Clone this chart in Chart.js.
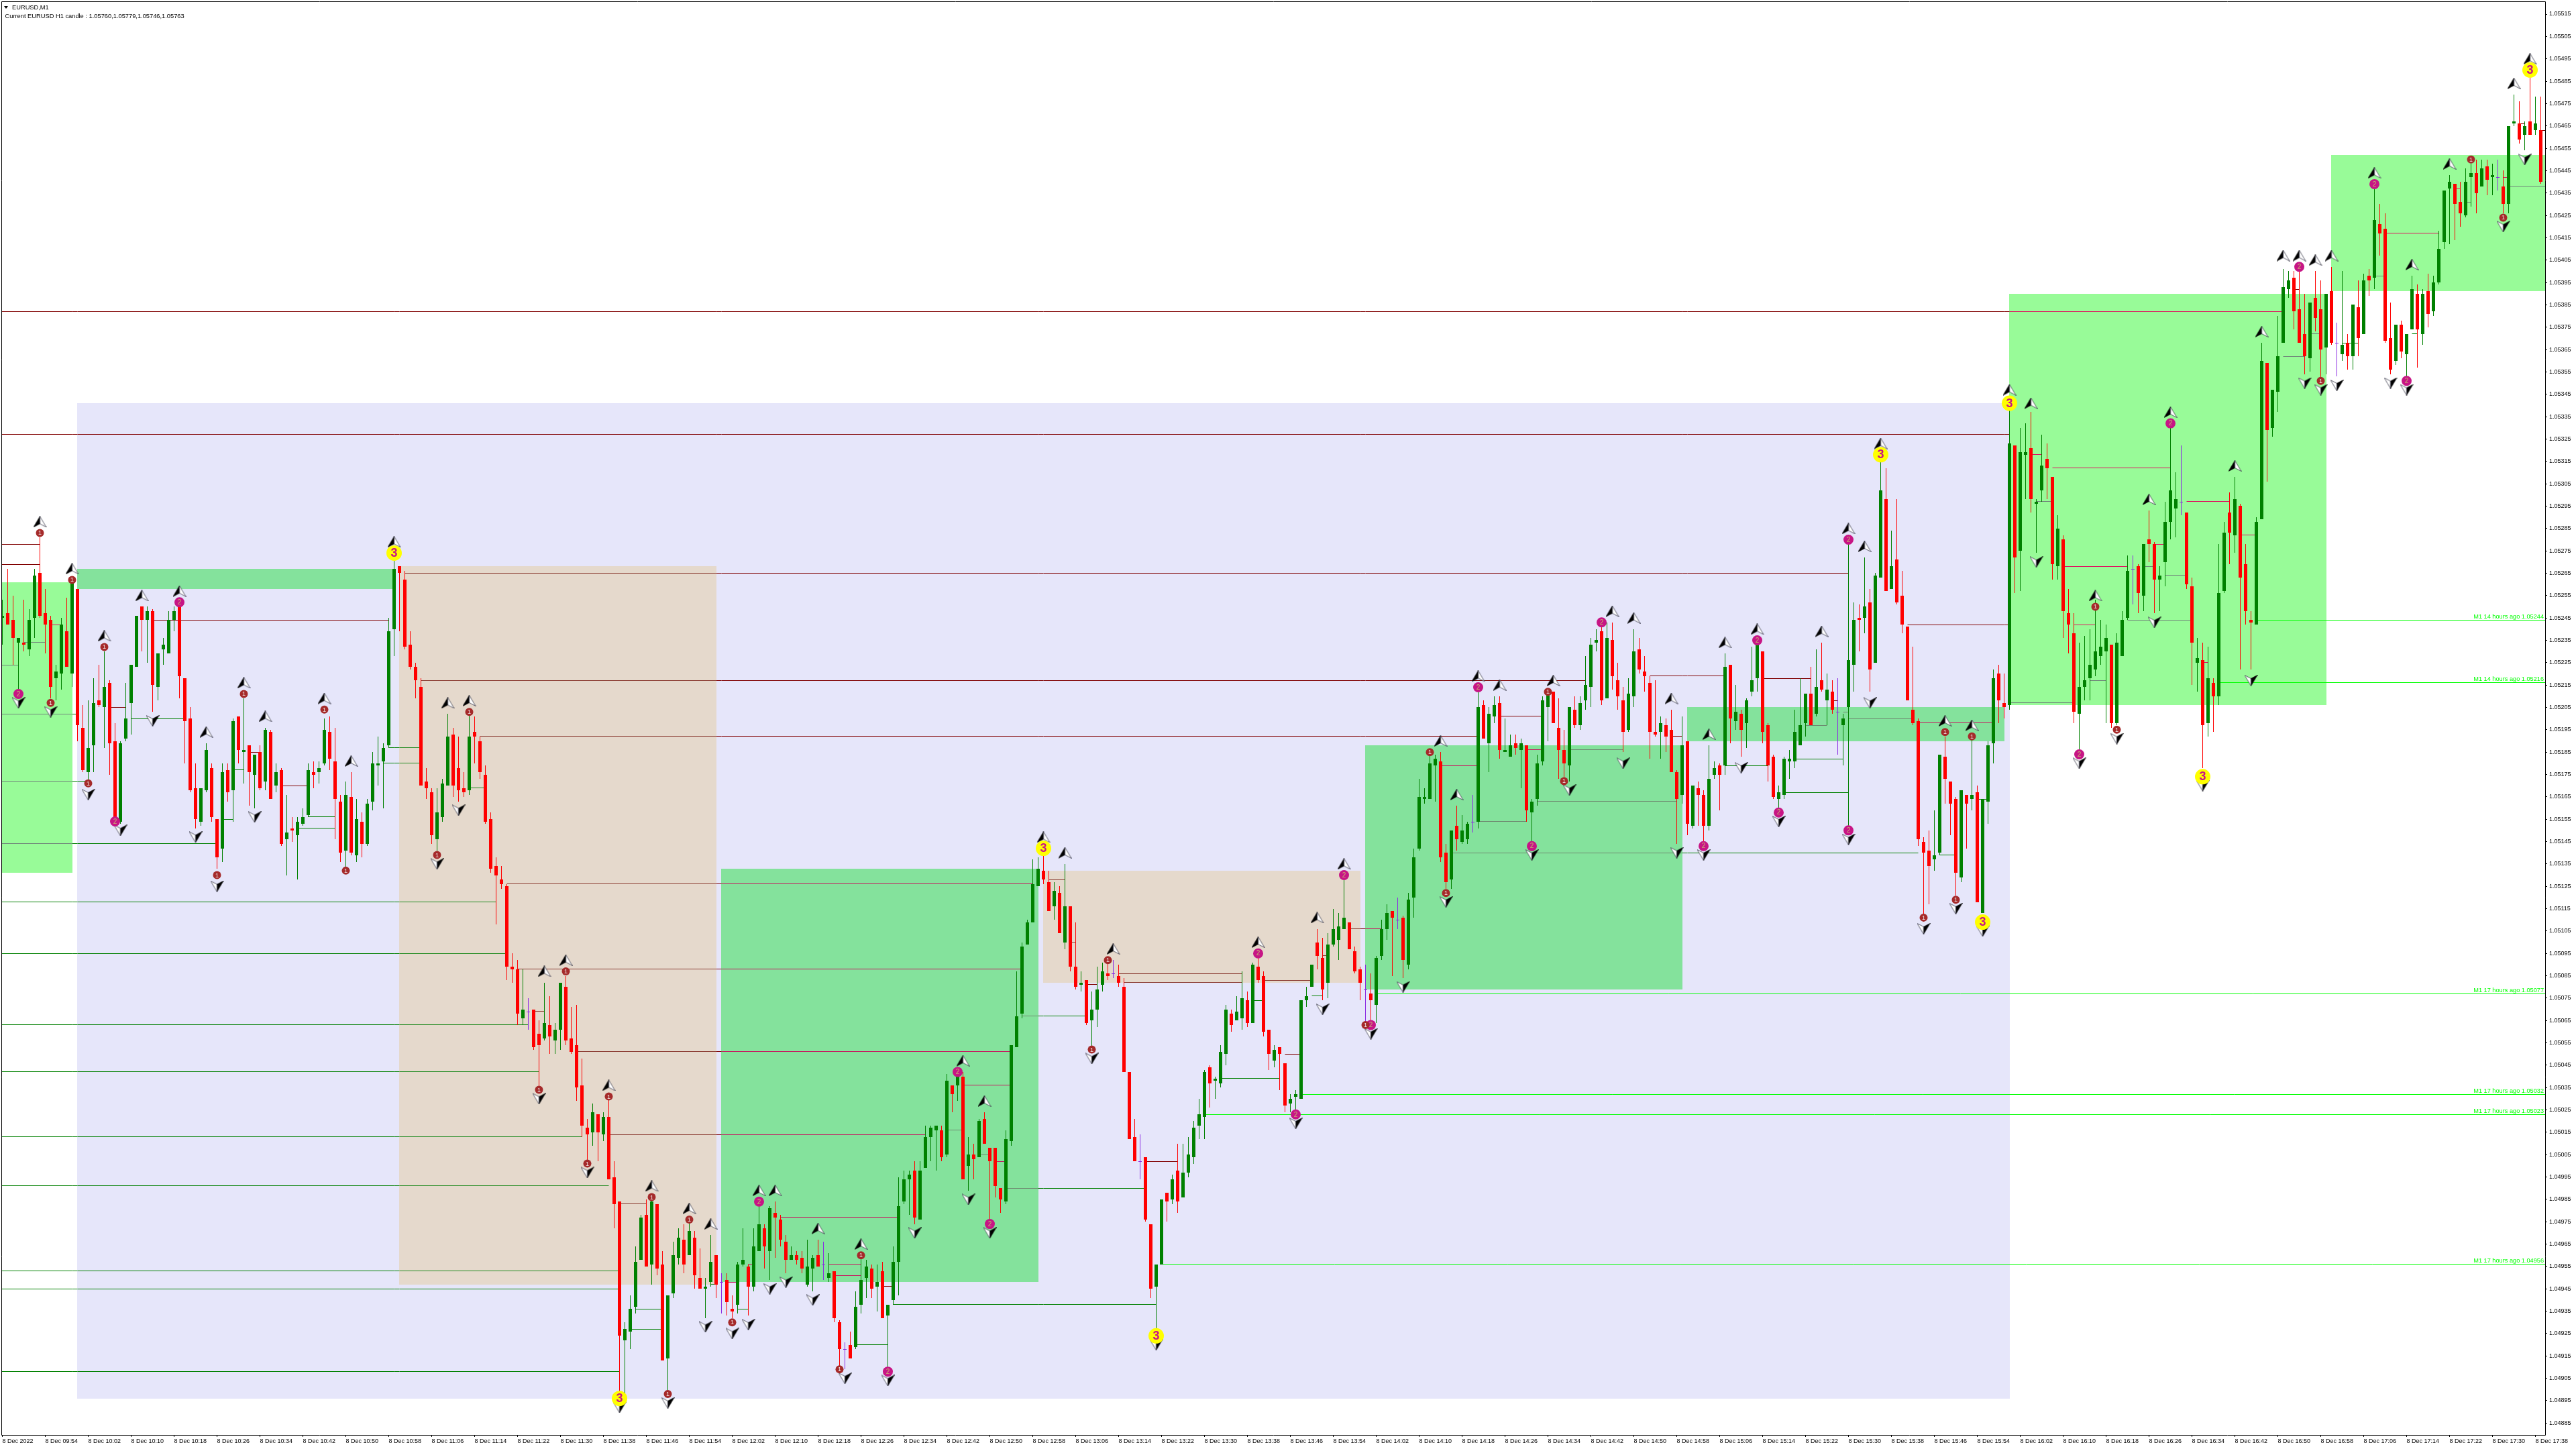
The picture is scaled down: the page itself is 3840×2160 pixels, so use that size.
<!DOCTYPE html>
<html><head><meta charset="utf-8">
<style>html,body{margin:0;padding:0;background:#fff}canvas{display:block}</style>
<script src="https://cdn.jsdelivr.net/npm/chart.js@4"></script>
</head><body><canvas id="c" width="3840" height="2160" style="width:3840px;height:2160px"></canvas>
<script>
// All candle values are points (0.00001) above 1.05000.
const opens=[245,247,244,234,234,231,245,265,247,244,218,220,239,220,258,196,176,188,208,205,216,190,154,191,207,223,250,244,248,214,231,229,244,250,218,200,169,154,168,178,155,142,177,168,201,185,188,175,185,172,194,170,177,146,151,148,153,157,176,176,180,194,181,163,141,165,139,154,144,163,179,181,188,240,268,262,233,223,214,172,167,146,156,170,193,178,169,168,194,190,175,155,134,128,125,89,88,66,69,70,59,57,63,56,61,80,57,54,36,17,15,23,14,22,-5,-16,-78,-74,-63,-42,-22,-44,-17,-44,-86,-57,-41,-33,-40,-32,-50,-55,-52,-40,-52,-51,-64,-62,-44,-45,-54,-38,-28,-38,-21,-24,-34,-42,-40,-41,-53,-46,-40,-44,-50,-47,-70,-82,-80,-81,-62,-50,-46,-54,-47,-67,-60,-43,-16,-6,-2,-24,-1,13,16,16,5,36,36,40,0,5,4,21,8,8,-10,-16,11,53,68,99,109,125,132,127,116,122,100,116,89,81,83,65,70,81,86,86,85,80,42,13,2,4,-26,-54,-44,-12,-15,-2,-14,-3,4,18,22,44,38,37,50,68,65,66,74,64,89,85,61,47,53,46,28,31,30,74,80,100,93,82,99,101,106,109,96,88,79,77,72,94,106,114,110,111,90,120,142,164,164,179,181,140,128,152,145,146,154,154,206,189,201,207,185,183,189,186,188,158,164,181,205,212,196,186,179,204,197,208,214,234,239,209,235,217,208,195,210,231,221,216,194,194,197,195,176,166,190,152,169,166,152,175,179,179,224,199,202,198,212,218,230,197,183,164,166,181,181,188,198,211,202,217,208,212,203,197,205,224,245,245,252,225,263,298,258,271,255,241,204,199,145,141,137,140,183,172,164,129,166,164,167,113,163,189,220,207,206,322,275,318,321,296,302,316,308,268,280,247,238,202,214,218,222,228,230,233,198,228,245,267,268,255,280,278,262,270,288,294,297,292,259,225,226,198,216,210,257,292,282,295,269,244,242,289,359,330,346,368,392,397,383,372,361,388,383,366,391,368,363,368,362,384,372,398,397,421,419,370,360,376,363,374,390,372,391,382,395,413,437,439,431,425,442,444,438,447,442,442,438,430,466,466,461,467,463,463];
const closes=[246,242,236,236,233,244,264,246,242,214,221,242,223,261,197,177,187,207,206,214,189,155,189,200,224,246,244,248,215,229,233,244,248,219,199,168,155,169,186,156,138,176,167,199,186,186,176,184,169,195,164,176,144,149,150,154,156,177,175,178,195,182,164,140,166,140,155,144,162,180,180,187,239,267,265,232,223,217,170,169,148,158,171,192,170,168,167,192,192,176,154,133,130,126,89,88,68,70,69,53,54,64,58,61,82,56,51,35,18,14,24,15,22,-6,-17,-76,-73,-64,-43,-23,-45,-16,-46,-87,-58,-40,-32,-44,-29,-49,-55,-54,-43,-53,-52,-61,-65,-44,-42,-54,-36,-26,-36,-19,-23,-33,-42,-40,-42,-46,-45,-41,-45,-44,-48,-68,-82,-82,-86,-63,-51,-45,-55,-52,-68,-62,-43,-18,-6,-4,-23,-2,13,17,18,4,38,32,40,-6,5,3,20,10,2,-9,-15,12,54,67,98,109,126,133,128,114,123,104,116,89,80,82,64,70,79,87,85,86,82,42,12,2,2,-24,-55,-44,-15,-16,-6,-16,-3,5,17,23,42,37,39,51,70,63,69,75,64,90,83,60,50,52,50,27,30,32,74,76,90,94,79,99,106,107,111,97,87,82,79,74,93,106,113,111,110,92,119,138,165,165,180,182,138,127,150,146,150,153,154,205,191,202,206,186,186,188,187,189,159,163,180,208,211,198,186,180,205,197,207,215,233,235,208,236,219,210,194,211,230,222,219,194,193,198,192,176,164,188,153,170,166,152,173,178,175,223,200,203,195,208,217,233,194,179,165,167,182,182,194,197,211,197,214,213,213,204,203,200,226,244,244,250,222,264,302,257,268,252,242,208,198,146,140,134,139,184,173,162,131,168,162,166,118,164,188,218,208,205,323,272,319,319,298,297,313,312,269,285,248,242,203,214,217,224,230,232,236,198,234,244,266,267,256,278,278,262,264,288,302,298,297,260,234,227,197,218,210,256,283,283,298,263,248,243,288,360,329,347,362,393,396,382,368,362,386,379,365,390,368,368,367,362,385,370,396,396,423,417,369,356,376,364,372,392,374,390,381,395,410,436,440,430,426,440,444,435,446,441,443,442,430,465,467,459,465,461,466,440];
const highs=[253,267,255,236,253,249,267,281,258,246,224,245,254,262,258,206,208,218,224,230,217,198,190,216,224,246,250,250,249,229,236,248,250,252,218,205,180,169,189,180,155,180,180,200,201,209,188,184,188,196,195,180,178,166,156,156,160,180,181,181,200,201,196,166,172,176,164,158,164,185,192,189,245,271,268,266,239,225,218,178,169,169,173,202,196,192,176,202,201,192,179,158,138,134,126,95,92,88,75,70,65,82,76,64,82,85,71,72,48,21,28,23,24,30,2,-16,-70,-58,-36,-22,-15,-14,-17,-38,-58,-34,-28,-26,-23,-29,-37,-50,-31,-40,-48,-48,-58,-43,-28,-44,-28,-18,-26,-18,-16,-22,-31,-36,-38,-38,-33,-40,-33,-34,-39,-47,-69,-79,-74,-56,-41,-42,-44,-44,-43,-62,-36,-5,-2,-2,2,2,18,18,18,18,41,36,43,42,13,10,21,24,8,8,-10,16,54,87,100,110,137,138,140,132,127,125,135,116,109,87,83,78,89,91,93,92,90,84,42,21,14,4,-26,-44,-15,-12,-4,10,10,13,20,30,43,45,40,54,72,70,76,87,78,91,93,87,61,54,53,46,32,34,74,80,90,106,102,104,115,113,128,109,98,89,90,86,94,110,117,114,120,112,122,142,173,169,184,184,185,144,150,161,157,154,166,212,208,205,210,210,200,193,193,191,188,164,184,210,212,212,209,195,205,210,210,228,236,240,242,243,243,225,214,218,240,236,228,219,217,201,200,204,177,201,190,170,172,168,188,181,180,229,224,215,204,209,232,233,230,198,184,170,183,186,204,218,211,223,231,234,220,217,218,202,278,252,251,272,258,265,315,312,284,298,266,241,232,200,147,150,159,184,192,172,165,168,166,191,170,164,190,222,224,220,338,322,330,332,337,298,327,323,308,291,282,258,247,234,237,240,253,244,242,233,238,248,273,273,269,278,293,279,268,297,330,310,322,292,263,236,234,232,218,278,288,301,308,296,278,248,290,368,359,347,380,401,400,400,400,390,386,400,396,390,402,377,400,372,385,396,399,401,437,430,426,386,376,378,372,398,394,392,399,398,418,436,443,439,440,446,448,450,450,450,448,450,445,465,479,476,467,487,478,478];
const lows=[233,242,224,212,230,228,236,245,229,209,208,213,223,214,190,176,172,176,205,187,175,153,153,190,193,223,230,225,203,208,224,229,239,209,180,167,151,152,167,154,133,136,163,154,180,171,161,160,168,168,164,167,143,130,145,128,152,156,169,171,179,177,146,136,133,139,136,138,143,159,170,160,187,228,239,231,222,209,170,164,144,140,154,170,165,163,165,166,180,173,153,131,108,124,83,82,63,63,61,52,35,56,50,50,52,54,50,29,13,2,9,2,11,-6,-28,-101,-102,-82,-66,-42,-45,-53,-49,-87,-101,-59,-44,-48,-40,-55,-55,-68,-54,-59,-66,-67,-68,-66,-45,-67,-56,-38,-46,-51,-41,-36,-48,-42,-44,-48,-54,-56,-45,-51,-52,-70,-91,-91,-86,-82,-66,-59,-59,-65,-68,-91,-62,-58,-17,-22,-26,-24,-1,2,-2,2,4,24,29,-6,-11,-6,4,10,-24,-14,-21,-17,9,53,66,99,109,125,126,114,110,104,97,87,79,78,63,52,62,78,83,84,80,42,12,2,-6,-25,-59,-73,-44,-25,-17,-21,-14,-5,1,12,12,26,30,35,45,60,65,61,62,64,82,58,43,44,34,24,24,25,30,71,80,88,74,75,98,92,106,97,86,74,64,64,64,92,101,85,106,84,88,111,141,162,164,163,136,124,124,141,144,144,149,151,191,176,198,182,185,183,184,169,154,145,161,179,190,198,173,173,172,196,195,204,205,230,206,209,213,204,185,194,205,220,212,182,192,182,185,176,144,162,148,151,152,145,150,173,159,175,189,195,183,187,210,212,189,172,164,160,164,173,178,188,192,197,201,212,197,202,184,179,152,212,230,238,212,225,263,257,258,251,238,208,197,143,111,117,132,139,162,148,121,127,142,159,118,113,153,180,198,200,204,256,257,298,292,274,297,298,262,262,236,229,198,186,208,208,219,224,198,196,197,228,244,251,247,248,270,247,248,259,280,281,291,258,215,212,178,192,194,206,256,269,274,222,242,222,242,289,306,326,337,368,388,374,368,354,355,373,351,354,367,353,360,356,356,362,372,389,392,407,368,354,358,361,353,374,357,367,375,380,394,410,412,414,420,424,429,426,438,434,434,436,426,426,465,457,454,461,461,439];

const yTickLabels=['1.05515','1.05505','1.05495','1.05485','1.05475','1.05465','1.05455','1.05445','1.05435','1.05425','1.05415','1.05405','1.05395','1.05385','1.05375','1.05365','1.05355','1.05345','1.05335','1.05325','1.05315','1.05305','1.05295','1.05285','1.05275','1.05265','1.05255','1.05245','1.05235','1.05225','1.05215','1.05205','1.05195','1.05185','1.05175','1.05165','1.05155','1.05145','1.05135','1.05125','1.05115','1.05105','1.05095','1.05085','1.05075','1.05065','1.05055','1.05045','1.05035','1.05025','1.05015','1.05005','1.04995','1.04985','1.04975','1.04965','1.04955','1.04945','1.04935','1.04925','1.04915','1.04905','1.04895','1.04885'];
const xTickLabels=['8 Dec 2022','8 Dec 09:54','8 Dec 10:02','8 Dec 10:10','8 Dec 10:18','8 Dec 10:26','8 Dec 10:34','8 Dec 10:42','8 Dec 10:50','8 Dec 10:58','8 Dec 11:06','8 Dec 11:14','8 Dec 11:22','8 Dec 11:30','8 Dec 11:38','8 Dec 11:46','8 Dec 11:54','8 Dec 12:02','8 Dec 12:10','8 Dec 12:18','8 Dec 12:26','8 Dec 12:34','8 Dec 12:42','8 Dec 12:50','8 Dec 12:58','8 Dec 13:06','8 Dec 13:14','8 Dec 13:22','8 Dec 13:30','8 Dec 13:38','8 Dec 13:46','8 Dec 13:54','8 Dec 14:02','8 Dec 14:10','8 Dec 14:18','8 Dec 14:26','8 Dec 14:34','8 Dec 14:42','8 Dec 14:50','8 Dec 14:58','8 Dec 15:06','8 Dec 15:14','8 Dec 15:22','8 Dec 15:30','8 Dec 15:38','8 Dec 15:46','8 Dec 15:54','8 Dec 16:02','8 Dec 16:10','8 Dec 16:18','8 Dec 16:26','8 Dec 16:34','8 Dec 16:42','8 Dec 16:50','8 Dec 16:58','8 Dec 17:06','8 Dec 17:14','8 Dec 17:22','8 Dec 17:30','8 Dec 17:38'];

const X0=-0.1875, X1=473.8125;
// zones: first bar, last bar, top, bottom, kind
const zones=[[14,374,341,-104,'lav'],[X0,13,261,131,'pale'],[14,73,267,258,'mid'],[74,133,268,-53,'tan'],[134,193,133,-52,'mid'],[194,253,132,82,'tan'],[254,313,188,79,'mid'],[314,373,205,190,'mid'],[374,433,390,206,'pale'],[434,X1,452,391,'pale']];
// level lines: first bar, last bar, level
const redLines=[[X0,425,382],[X0,374,327],[X0,7,278],[X0,7,269],[28,72,244],[75,344,265],[78,295,217],[307,321,219],[328,337,218],[279,287,201],[89,275,192],[311,313,192],[268,275,179],[284,287,186],[94,192,126],[96,190,88],[107,188,51],[113,172,14],[115,120,-17],[99,101,69],[145,167,-23],[154,160,-44],[155,160,-49],[135,137,-52],[139,140,-44],[164,166,-54],[179,188,36],[185,187,2],[195,198,128],[199,200,100],[202,204,81],[208,231,86],[209,231,82],[213,219,2],[235,244,83],[239,242,50],[251,257,106],[246,247,94],[355,374,242],[357,371,198],[341,342,208],[382,404,312],[384,396,268],[386,390,242],[378,380,318],[401,403,278],[407,415,297],[417,420,282],[410,411,225],[444,454,417],[427,428,392],[457,458,437],[466,467,442],[469,470,466],[473,X1,463],[9,11,242],[46,48,185],[20,23,205],[52,57,170]];
const greenLines=[[X0,3,224],[X0,14,202],[4,8,234],[X0,16,172],[X0,40,144],[24,34,200],[43,45,177],[41,43,155],[57,62,156],[55,62,151],[71,78,180],[72,78,187],[87,90,169],[X0,92,118],[X0,94,95],[X0,98,63],[X0,100,42],[X0,108,13],[X0,113,-9],[X0,115,-47],[X0,115,-55],[X0,115,-92],[118,123,-64],[117,123,-73],[132,133,-53],[187,213,-10],[190,202,67],[166,215,-62],[159,165,-80],[137,139,-64],[176,179,16],[182,184,5],[227,238,39],[233,235,74],[244,246,76],[270,357,140],[275,284,154],[286,312,163],[292,302,186],[321,329,179],[332,344,167],[334,343,182],[336,340,197],[344,356,200],[343,344,203],[361,364,139],[368,370,164],[374,386,207],[379,382,297],[389,392,217],[396,408,244],[403,407,264],[399,401,268],[425,429,362],[430,432,372],[442,444,398],[436,439,368],[459,460,431],[467,X1,438],[449,450,372]];
const brightLines=[[256,X1,77],[242,X1,32],[224,X1,23],[216,X1,-44],[420,X1,244],[413,X1,216]];
const brightLabels=['M1 17 hours ago 1.05077','M1 17 hours ago 1.05032','M1 17 hours ago 1.05023','M1 17 hours ago 1.04956','M1 14 hours ago 1.05244','M1 14 hours ago 1.05216'];
const headerLines=['EURUSD,M1','Current EURUSD H1 candle : 1.05760,1.05779,1.05746,1.05763'];

// markers: bar, level
const arrowsUp=[[7,288],[13,267],[19,237],[26,255],[33,257],[38,194],[45,216],[49,201],[60,209],[65,181],[73,279],[83,207],[87,208],[101,87],[105,92],[113,36],[121,-9],[128,-19],[132,-26],[141,-11],[144,-11],[152,-28],[160,-35],[179,47],[183,29],[194,147],[198,140],[207,97],[234,100],[245,111],[250,135],[268,190],[271,166],[275,219],[279,215],[289,217],[300,248],[304,245],[311,209],[318,193],[321,234],[327,240],[339,239],[344,285],[347,277],[350,323],[362,199],[367,197],[374,347],[378,341],[390,255],[400,298],[404,337],[416,313],[421,373],[425,407],[428,407],[431,405],[434,407],[442,444],[449,403],[456,448],[468,484],[471,495]];
const arrowsDown=[[3,207],[9,203],[16,166],[22,150],[28,199],[36,147],[40,125],[47,156],[81,135],[85,159],[100,30],[109,-3],[115,-108],[124,-106],[131,-72],[136,-75],[139,-71],[143,-55],[146,-52],[151,-60],[157,-95],[165,-96],[170,-30],[180,-15],[184,-30],[203,48],[215,-80],[241,19],[246,70],[255,59],[261,80],[269,118],[285,139],[292,168],[302,180],[312,140],[317,139],[324,178],[331,154],[344,146],[348,207],[358,106],[364,115],[369,105],[379,270],[387,180],[394,191],[401,243],[410,170],[419,217],[429,350],[432,347],[435,349],[445,350],[448,347],[466,420],[470,450]];
const badges1=[[7,283],[13,262],[19,232],[9,207],[16,171],[40,130],[45,211],[60,204],[64,132],[81,139],[87,203],[100,34],[105,87],[109,1],[113,31],[121,-14],[124,-102],[128,-24],[136,-70],[156,-91],[160,-40],[203,52],[206,92],[254,63],[266,185],[269,122],[288,212],[291,172],[358,111],[362,194],[364,119],[367,192],[390,250],[394,195],[432,351],[460,450],[466,424]];
const badges2=[[3,211],[21,154],[33,252],[141,-16],[165,-92],[178,42],[184,-26],[234,95],[241,23],[250,130],[255,63],[275,214],[285,143],[298,243],[317,143],[327,235],[331,158],[344,280],[344,150],[387,184],[404,332],[428,402],[442,439],[448,351]];
const badges3=[[73,274],[115,-104],[194,142],[215,-76],[350,318],[369,109],[374,341],[410,174],[471,490]];

const price=v=>1.05+v/100000;
const UP='#008000',DN='#FF0000',DOJI='#8A2BE2';
const zoneFill={lav:'#E6E6FA',pale:'#98FB98',mid:'#84E29C',tan:'#E5D9CC'};
const lineInk={r:{none:'#800000',lav:'#800000',tan:'#8A3A30',mid:'#C8145F',pale:'#E0105F'},
               g:{none:'#008000',lav:'#008000',tan:'#1E8A1E',mid:'#6E8A70',pale:'#70847A'}};

const candleColor=i=>closes[i]>opens[i]?UP:closes[i]<opens[i]?DN:DOJI;
const bars=opens.map((_,i)=>i);

function zoneAt(x,v){let k='none';for(const z of zones){if(x>=z[0]&&x<=z[1]&&v<=z[2]&&v>=z[3])k=z[4];}return k;}
function buildLines(){
  const groups={};
  const add=(col,a,b,v)=>{(groups[col]=groups[col]||[]).push({x:a,y:price(v)},{x:b,y:price(v)},{x:b,y:NaN});};
  const split=(list,ink)=>{for(const [a,b,v] of list){
    const cuts=[a,b];for(const z of zones){for(const e of [z[0],z[1]]){if(e>a&&e<b)cuts.push(e);}}
    cuts.sort((p,q)=>p-q);
    for(let i=0;i<cuts.length-1;i++){if(cuts[i+1]<=cuts[i])continue;add(ink[zoneAt((cuts[i]+cuts[i+1])/2,v)],cuts[i],cuts[i+1],v);}
  }};
  split(redLines,lineInk.r);split(greenLines,lineInk.g);
  for(const [a,b,v] of brightLines)add('#00FF00',a,b,v);
  return Object.keys(groups).map(c=>({type:'line',data:groups[c],borderColor:c,borderWidth:1,pointRadius:0,spanGaps:false,fill:false,tension:0,order:5,label:'levels'}));
}
function arrowGlyph(up){
  const c=document.createElement('canvas');c.width=20;c.height=17;const g=c.getContext('2d');
  if(!up){g.translate(0,17);g.scale(1,-1);}
  const shape=(pts,f,s)=>{g.beginPath();pts.forEach((p,i)=>i?g.lineTo(p[0],p[1]):g.moveTo(p[0],p[1]));g.closePath();if(f){g.fillStyle=f;g.fill();}if(s){g.strokeStyle=s;g.lineWidth=.8;g.stroke();}};
  const T=[10,0.5],L=[0.5,16.5],R=[19.5,16.5],N=[10,11.5];
  if(up){shape([T,L,N],'#000','#000');shape([T,R,N],'#fff','#334');}
  else{shape([T,R,N],'#000','#000');shape([T,L,N],'#fff','#334');}
  return c;
}
const toPts=l=>l.map(([x,v])=>({x,y:price(v)}));
const ds=[];
ds.push(...buildLines());
ds.push({type:'bar',label:'wicks',data:bars.map(i=>({x:i,y:[price(lows[i]),price(highs[i])]})),backgroundColor:bars.map(candleColor),barThickness:1,grouped:false,inflateAmount:0,order:3});
ds.push({type:'bar',label:'bodies',data:bars.map(i=>({x:i,y:[price(opens[i]),price(closes[i])]})),backgroundColor:bars.map(candleColor),barThickness:5,grouped:false,inflateAmount:0,order:2});
ds.push({type:'scatter',label:'up',data:toPts(arrowsUp),pointStyle:arrowGlyph(true),pointRadius:10,order:1,clip:false});
ds.push({type:'scatter',label:'down',data:toPts(arrowsDown),pointStyle:arrowGlyph(false),pointRadius:10,order:1,clip:false});
ds.push({type:'scatter',label:'b1',data:toPts(badges1),pointStyle:'circle',pointRadius:6,backgroundColor:'#A52A2A',borderWidth:0,order:0,digit:'1',digitColor:'#F0E6E6',digitFont:'9px "Liberation Sans"'});
ds.push({type:'scatter',label:'b2',data:toPts(badges2),pointStyle:'circle',pointRadius:7.5,backgroundColor:'#C71585',borderWidth:0,order:0,digit:'2',digitColor:'#C8B070',digitFont:'10px "Liberation Sans"'});
ds.push({type:'scatter',label:'b3',data:toPts(badges3),pointStyle:'circle',pointRadius:11.5,backgroundColor:'#FFFF00',borderWidth:0,order:0,digit:'3',digitColor:'#C71585',digitFont:'bold 18px "Liberation Sans"'});

const plugin={id:'mt4',
  afterDatasetsUpdate(ch){
    ch.getSortedVisibleDatasetMetas().forEach(m=>{
      if(m.type==='bar'){m.data.forEach(e=>{const a=Math.round(e.y),b=Math.round(e.base);e.y=a;e.base=(a===b)?a+1:b;});}
      else if(m.type==='line'){m.data.forEach(e=>{if(!e.skip)e.y=Math.floor(e.y)+.5;});}
    });
  },
  beforeDatasetsDraw(ch){
    const c=ch.ctx,X=ch.scales.x,Y=ch.scales.y;c.save();
    for(const z of zones){const l=Math.round(X.getPixelForValue(z[0])-.01),r=Math.round(X.getPixelForValue(z[1])),t=Math.round(Y.getPixelForValue(price(z[2]))),b=Math.round(Y.getPixelForValue(price(z[3])));
      c.fillStyle=zoneFill[z[4]];c.fillRect(l,t,r-l,b-t);}
    c.restore();
  },
  afterDatasetsDraw(ch){
    const c=ch.ctx,Y=ch.scales.y;c.save();c.textAlign='center';c.textBaseline='middle';
    ch.data.datasets.forEach((d,idx)=>{if(!d.digit)return;c.font=d.digitFont;c.fillStyle=d.digitColor;
      ch.getDatasetMeta(idx).data.forEach(e=>c.fillText(d.digit,e.x,e.y+.5));});
    // right-hand level captions
    c.textAlign='right';c.textBaseline='alphabetic';c.font='9.2px "Liberation Sans"';c.fillStyle='#00FF00';
    brightLines.forEach((l,i)=>c.fillText(brightLabels[i],3792,Math.floor(Y.getPixelForValue(price(l[2])))-2));
    // frame
    c.strokeStyle='#000';c.lineWidth=1;c.beginPath();c.moveTo(2.5,2.5);c.lineTo(3794.5,2.5);c.moveTo(2.5,2.5);c.lineTo(2.5,2139.5);c.lineTo(3794.5,2139.5);c.lineTo(3794.5,2.5);c.stroke();
    // header
    c.textAlign='left';c.textBaseline='middle';c.fillStyle='#000';c.font='9.3px "Liberation Sans"';
    c.beginPath();c.moveTo(6,9);c.lineTo(12,9);c.lineTo(9,13);c.closePath();c.fill();
    c.fillText(headerLines[0],18,11);c.fillText(headerLines[1],7.5,24);
    c.restore();
  }
};
const noPad=a=>{a.paddingLeft=0;a.paddingRight=0;a.paddingTop=0;a.paddingBottom=0;};

new Chart(document.getElementById('c'),{
  type:'bar',
  data:{datasets:ds},
  plugins:[plugin],
  options:{responsive:false,animation:false,devicePixelRatio:1,events:[],
    layout:{autoPadding:false,padding:{left:2,top:2,right:0,bottom:0}},
    plugins:{legend:{display:false},tooltip:{enabled:false},title:{display:false}},
    scales:{
      x:{type:'linear',offset:false,min:X0,max:X1,
        grid:{display:true,drawOnChartArea:false,drawTicks:true,tickLength:3,color:'#000',offset:false},
        border:{display:false},
        afterBuildTicks(a){a.ticks=xTickLabels.map((_,k)=>({value:k*8}));},
        afterFit(a){a.height=21;noPad(a);},
        ticks:{autoSkip:false,maxRotation:0,minRotation:0,align:'start',padding:1,color:'#000',font:{family:'"Liberation Sans"',size:9},callback:(v,k)=>xTickLabels[k]}},
      y:{type:'linear',position:'right',min:price(-120.3),max:price(520.7),beginAtZero:false,
        grid:{display:true,drawOnChartArea:false,drawTicks:true,tickLength:3,color:'#000'},
        border:{display:false},
        afterBuildTicks(a){a.ticks=yTickLabels.map(s=>({value:parseFloat(s)}));},
        afterFit(a){a.width=46;noPad(a);},
        ticks:{autoSkip:false,padding:3,color:'#000',font:{family:'"Liberation Sans"',size:9},callback:(v,k)=>yTickLabels[k]}}
    }}
});
</script></body></html>
